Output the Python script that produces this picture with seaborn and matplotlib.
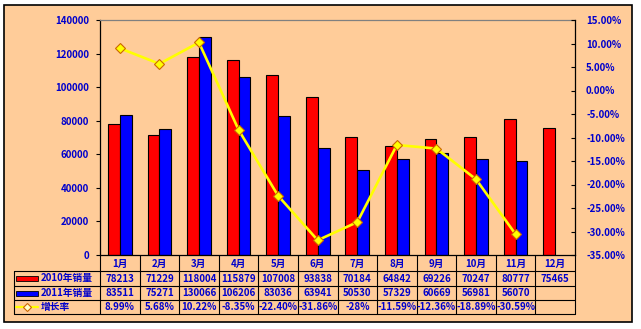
import matplotlib
matplotlib.use("Agg")
import matplotlib.pyplot as plt
from matplotlib.lines import Line2D
from matplotlib.patches import Rectangle
import seaborn as sns
import pandas as pd
import numpy as np

months = ["1月", "2月", "3月", "4月", "5月", "6月", "7月", "8月", "9月", "10月", "11月", "12月"]
sales_2010 = [78213, 71229, 118004, 115879, 107008, 93838, 70184, 64842, 69226, 70247, 80777, 75465]
sales_2011 = [83511, 75271, 130066, 106206, 83036, 63941, 50530, 57329, 60669, 56981, 56070, np.nan]
growth = [8.99, 5.68, 10.22, -8.35, -22.40, -31.86, -28.0, -11.59, -12.36, -18.89, -30.59]
growth_labels = ["8.99%", "5.68%", "10.22%", "-8.35%", "-22.40%", "-31.86%", "-28%",
                 "-11.59%", "-12.36%", "-18.89%", "-30.59%", ""]
series_names = ["2010年销量", "2011年销量", "增长率"]
left_ticks = list(range(0, 140001, 20000))
right_ticks = list(range(-35, 16, 5))

sns.set_style("ticks")
plt.rcParams["font.family"] = ["Noto Sans CJK SC", "DejaVu Sans"]

W, H = 641, 329
fig = plt.figure(figsize=(W / 100, H / 100), dpi=100)
fig.patch.set_facecolor("white")
fig.add_artist(Rectangle((4 / W, 1 - 322 / H), 628 / W, 317 / H, transform=fig.transFigure,
                         facecolor="#FFCC99", edgecolor="black", lw=1.2, zorder=0))

L, R, T, B = 100, 575, 20, 255
ax = fig.add_axes([L / W, 1 - B / H, (R - L) / W, (B - T) / H])
ax.set_facecolor("none")

df = pd.DataFrame({
    "month": months * 2,
    "sales": sales_2010 + sales_2011,
    "year": [series_names[0]] * 12 + [series_names[1]] * 12,
})
sns.barplot(data=df, x="month", y="sales", hue="year", order=months,
            palette=["#FF0000", "#0000FF"], width=0.6, edgecolor="black",
            linewidth=0.8, ax=ax, legend=False, saturation=1)

txt_color = "#0000CC"
fs = 7
ax.set_ylim(0, 140000)
ax.set_xlim(-0.5, 11.5)
ax.set_yticks(left_ticks)
ax.set_yticklabels([str(v) for v in left_ticks], color=txt_color, fontsize=fs, fontweight="bold")
ax.tick_params(axis="y", direction="out", length=3, width=0.8, color="black", pad=5)
ax.set_xticks([])
ax.set_xlabel("")
ax.set_ylabel("")
for s in ["left", "bottom"]:
    ax.spines[s].set_color("black")
    ax.spines[s].set_linewidth(0.9)
ax.spines["top"].set_visible(True)
ax.spines["top"].set_color("#808080")
ax.spines["top"].set_linewidth(0.9)
ax.spines["right"].set_visible(False)

ax2 = ax.twinx()
ax2.set_facecolor("none")
sns.lineplot(x=list(range(len(growth))), y=growth, ax=ax2, color="#FFFF00", lw=1.9,
             marker="D", markersize=5, markerfacecolor="#FFFF00",
             markeredgecolor="#CC6600", markeredgewidth=0.8)
ax2.set_ylim(-35, 15)
ax2.set_xlim(-0.5, 11.5)
ax2.set_yticks(right_ticks)
ax2.set_yticklabels([f"{v:.2f}%" for v in right_ticks], color=txt_color, fontsize=fs, fontweight="bold")
ax2.tick_params(axis="y", direction="in", length=3, width=0.8, color="black", pad=8)
ax2.spines["right"].set_color("black")
ax2.spines["right"].set_linewidth(0.9)
ax2.spines["top"].set_visible(False)
ax2.spines["left"].set_visible(False)
ax2.spines["bottom"].set_visible(False)
ax2.set_ylabel("")

def axx(px):
    return (px - L) / (R - L)

def axy(py):
    return (B - py) / (B - T)

lw = 0.8
rows_y = [271, 286, 300, 314]
def hline(py, x0, x1):
    ax.add_line(Line2D([axx(x0), axx(x1)], [axy(py), axy(py)], transform=ax.transAxes,
                       color="black", lw=lw, clip_on=False))
def vline(px, y0, y1):
    ax.add_line(Line2D([axx(px), axx(px)], [axy(y0), axy(y1)], transform=ax.transAxes,
                       color="black", lw=lw, clip_on=False))

for py in rows_y:
    hline(py, 14, R)
vline(14, 271, 314)
n = len(months)
for i in range(n + 1):
    px = L + i * (R - L) / n
    vline(px, B, 314)

row_centers = [263.5, 278.5, 293, 307]
for i, m in enumerate(months):
    cx = (i + 0.5) / n
    ax.text(cx, axy(row_centers[0]), m, transform=ax.transAxes, ha="center", va="center",
            color=txt_color, fontsize=fs, fontweight="bold")
    ax.text(cx, axy(row_centers[1]), f"{sales_2010[i]}", transform=ax.transAxes, ha="center",
            va="center", color=txt_color, fontsize=fs, fontweight="bold")
    v2 = sales_2011[i]
    ax.text(cx, axy(row_centers[2]), "" if np.isnan(v2) else f"{int(v2)}", transform=ax.transAxes,
            ha="center", va="center", color=txt_color, fontsize=fs, fontweight="bold")
    ax.text(cx, axy(row_centers[3]), growth_labels[i], transform=ax.transAxes, ha="center",
            va="center", color=txt_color, fontsize=fs, fontweight="bold")

# legend keys
for k, (col, cy) in enumerate([("#FF0000", row_centers[1]), ("#0000FF", row_centers[2])]):
    ax.add_patch(Rectangle((axx(16), axy(cy + 2.5)), axx(38) - axx(16), axy(cy - 2.5) - axy(cy + 2.5),
                           transform=ax.transAxes, facecolor=col, edgecolor="black", lw=0.6,
                           clip_on=False))
ax.add_line(Line2D([axx(16), axx(38)], [axy(row_centers[3])] * 2, transform=ax.transAxes,
                   color="#FFFF00", lw=1.6, clip_on=False))
ax.add_line(Line2D([axx(27)], [axy(row_centers[3])], transform=ax.transAxes, marker="D",
                   markersize=4.5, markerfacecolor="#FFFFCC", markeredgecolor="#CC6600",
                   markeredgewidth=0.8, clip_on=False))
for name, cy in zip(series_names, row_centers[1:]):
    ax.text(axx(41), axy(cy), name, transform=ax.transAxes, ha="left", va="center",
            color=txt_color, fontsize=fs, fontweight="bold")

fig.savefig("out.png", dpi=100, facecolor=fig.get_facecolor())
